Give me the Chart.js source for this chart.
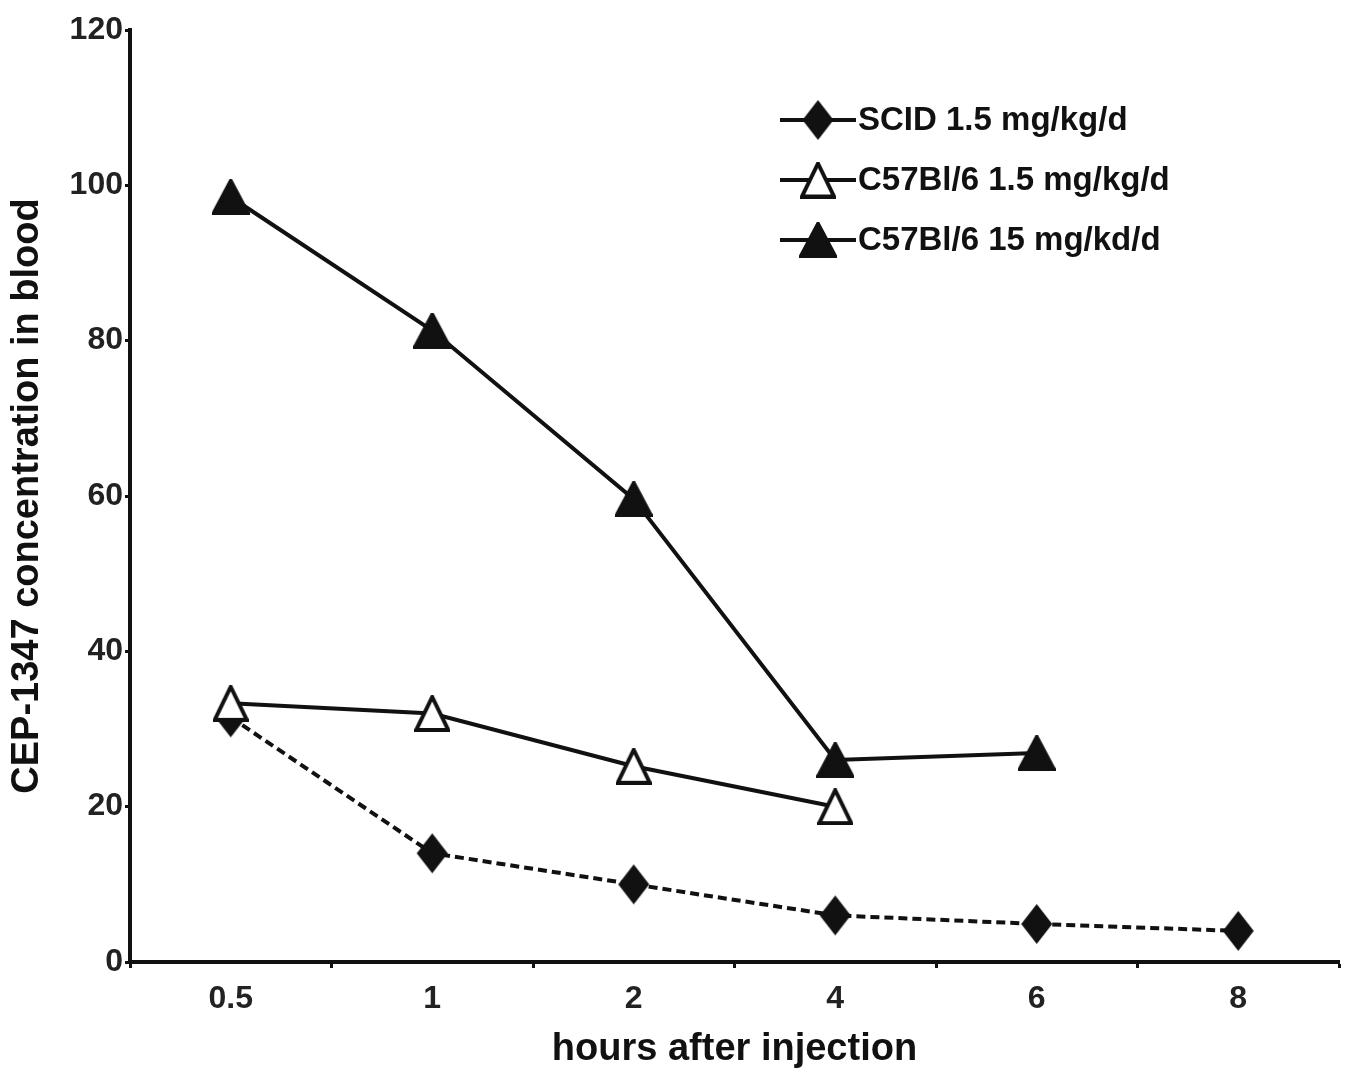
<!DOCTYPE html>
<html>
<head>
<meta charset="utf-8">
<script src="https://cdn.jsdelivr.net/npm/chart.js@4"></script>
<style>
html, body { margin:0; padding:0; background:#fff; }
#wrap { width:1347px; height:1072px; }
</style>
</head>
<body>
<div id="wrap"><canvas id="pkChart" width="1347" height="1072"></canvas></div>
<script>

// ================= DATA =================

const hours = ["0.5", "1", "2", "4", "6", "8"];

const scidLow = [31.5, 14, 10, 6, 4.9, 4];

const c57Low = [33.3, 32, 25.2, 20, null, null];

const c57High = [98.5, 81.3, 59.6, 26, 26.9, null];

const seriesNames = [
"SCID 1.5 mg/kg/d",
"C57Bl/6 1.5 mg/kg/d",
"C57Bl/6 15 mg/kd/d"
];

const yTicks = [0, 20, 40, 60, 80, 100, 120];


const ink = "#111";
const font = "Liberation Sans, Arial, sans-serif";


// ================= MARKERS (Excel-like, box centred) =================

function makeMarker(shape, w, h, filled) {
const c = document.createElement("canvas");
c.width = w;
c.height = h;
const g = c.getContext("2d");
const lw = 4;
g.beginPath();
if (shape === "diamond") {
g.moveTo(w / 2, 1);
g.lineTo(w - 1, h / 2);
g.lineTo(w / 2, h - 1);
g.lineTo(1, h / 2);
} else {
g.moveTo(w / 2, lw / 2);
g.lineTo(w - lw / 2, h - lw / 2);
g.lineTo(lw / 2, h - lw / 2);
}
g.closePath();
g.lineJoin = "miter";
g.fillStyle = filled ? ink : "#fff";
g.fill();
g.lineWidth = lw;
g.strokeStyle = ink;
if (shape !== "diamond") g.stroke();
return c;
}

const diamondMark = makeMarker("diamond", 33, 42, true);
const openTriMark = makeMarker("triangle", 36, 37, false);
const fullTriMark = makeMarker("triangle", 38, 36, true);


// ================= LEGEND (line + marker) =================

const lineLegend = {
id: "lineLegend",
afterDraw(chart) {
const ctx = chart.ctx;
chart.data.datasets.forEach((ds, row) => {
const y = 120 + row * 60;
ctx.save();
ctx.strokeStyle = ink;
ctx.lineWidth = 4;
ctx.beginPath();
ctx.moveTo(780, y);
ctx.lineTo(856, y);
ctx.stroke();
const m = ds.pointStyle;
ctx.drawImage(m, 818 - m.width / 2, y - m.height / 2);
ctx.fillStyle = ink;
ctx.font = "bold 33px " + font;
ctx.textAlign = "left";
ctx.textBaseline = "middle";
ctx.fillText(ds.label, 858, y + 1);
ctx.restore();
});
}
};


// ================= CHART =================

new Chart(document.getElementById("pkChart"), {

type: "line",

data: {

labels: hours,

datasets: [
{
label: seriesNames[0],
data: scidLow,
borderColor: ink,
borderWidth: 4,
borderDash: [9, 5],
pointStyle: diamondMark,
order: 1
},
{
label: seriesNames[1],
data: c57Low,
borderColor: ink,
borderWidth: 4,
pointStyle: openTriMark,
order: 0
},
{
label: seriesNames[2],
data: c57High,
borderColor: ink,
borderWidth: 4,
pointStyle: fullTriMark,
order: 2
}
]

},

options: {

responsive: false,
animation: false,

layout: {
padding: { top: 30, right: -6, left: 0, bottom: 0 }
},

plugins: {
legend: { display: false },
tooltip: { enabled: false }
},

scales: {

x: {
offset: true,
afterFit(scale) { scale.height = 110; },
border: { color: ink, width: 4 },
grid: {
offset: true,
drawOnChartArea: false,
tickLength: 6,
tickWidth: 3,
tickColor: ink
},
ticks: {
color: "#222",
padding: 12,
font: { family: font, size: 32, weight: "bold" }
},
title: {
display: true,
text: "hours after injection",
color: ink,
padding: { top: 0, bottom: 0 },
font: { family: font, size: 38, weight: "bold" }
}
},

y: {
min: 0,
max: 120,
afterFit(scale) { scale.width = 130; },
afterBuildTicks(scale) { scale.ticks = yTicks.map(v => ({ value: v })); },
border: { color: ink, width: 4 },
grid: {
drawOnChartArea: false,
tickLength: 5,
tickWidth: 3,
tickColor: ink
},
ticks: {
color: "#222",
padding: 2,
font: { family: font, size: 32, weight: "bold" }
},
title: {
display: true,
text: "CEP-1347 concentration in blood",
color: ink,
padding: { top: 5, bottom: 0 },
font: { family: font, size: 38, weight: "bold" }
}
}

}

},

plugins: [lineLegend]

});

</script>
</body>
</html>
